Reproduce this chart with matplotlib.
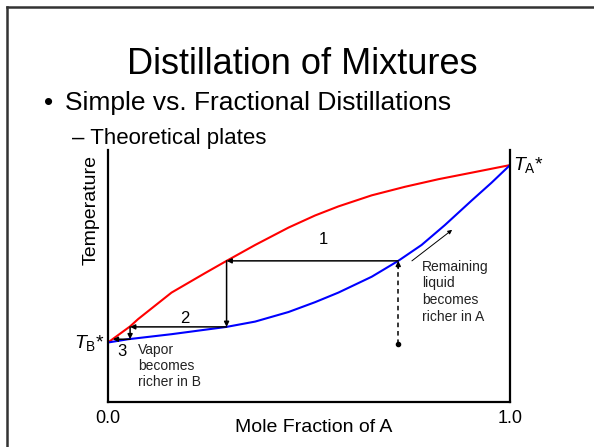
import matplotlib
matplotlib.use("Agg")
import matplotlib.pyplot as plt
from matplotlib.lines import Line2D

plt.rcParams['font.family'] = ['Liberation Sans', 'DejaVu Sans']
plt.rcParams['mathtext.fontset'] = 'custom'
plt.rcParams['mathtext.rm'] = 'Liberation Sans'
plt.rcParams['mathtext.it'] = 'Liberation Sans:italic'

# vapour (dew) curve, red
x_vap = [0, 0.055, 0.075, 0.158, 0.241, 0.295, 0.366, 0.449, 0.515,
         0.573, 0.656, 0.739, 0.822, 0.905, 1.0]
t_vap = [23.6, 30.0, 32.9, 43.4, 51.1, 56.0, 62.3, 69.2, 74.0,
         77.6, 82.0, 85.4, 88.4, 91.0, 94.0]
# liquid (bubble) curve, blue
x_liq = [0, 0.050, 0.158, 0.295, 0.366, 0.449, 0.515, 0.573, 0.656, 0.722,
         0.780, 0.838, 0.905, 0.954, 1.0]
t_liq = [23.6, 24.9, 26.9, 29.8, 31.9, 35.7, 39.6, 43.4, 49.7, 56.0,
         62.3, 70.2, 80.0, 87.0, 94.0]

# theoretical plate steps (start -> end of each arrow)
steps = [
    ((0.722, 56.0), (0.295, 56.0)),
    ((0.295, 56.0), (0.295, 29.8)),
    ((0.295, 29.8), (0.055, 29.8)),
    ((0.055, 29.8), (0.055, 24.9)),
    ((0.055, 24.9), (0.012, 24.9)),
]
step_labels = ['1', '2', '3']
step_label_pos = [(0.537, 64.3), (0.192, 33.3), (0.035, 20.2)]

# starting liquid composition
x_start, t_start = 0.722, 23.0

fig = plt.figure(figsize=(5.94, 4.47), dpi=100)
ax = fig.add_axes([0.1818, 0.1007, 0.6768, 0.5638])

ax.plot(x_vap, t_vap, color='red', lw=1.5)
ax.plot(x_liq, t_liq, color='blue', lw=1.5)

for (a, b) in steps:
    ax.annotate('', xy=b, xytext=a,
                arrowprops=dict(arrowstyle='-|>', mutation_scale=7, lw=1.1,
                                color='black', shrinkA=0, shrinkB=0))
for lab, (lx, ly) in zip(step_labels, step_label_pos):
    ax.text(lx, ly, lab, fontsize=12, ha='center', va='center')

# dashed line from starting liquid up to liquid curve
ax.plot([x_start, x_start], [t_start, 53.5], color='black', lw=1.1, ls=(0, (3, 2.5)))
ax.plot([x_start], [t_start], 'o', color='black', ms=3)
ax.annotate('', xy=(x_start, 56.0), xytext=(x_start, 53.0),
            arrowprops=dict(arrowstyle='-|>', mutation_scale=7, lw=1.1,
                            color='black', shrinkA=0, shrinkB=0))
# thin arrow along liquid curve
ax.annotate('', xy=(0.856, 68.3), xytext=(0.756, 56.0),
            arrowprops=dict(arrowstyle='-|>', mutation_scale=6, lw=0.7,
                            color='black', shrinkA=0, shrinkB=0))

ax.text(0.781, 56.5, 'Remaining\nliquid\nbecomes\nricher in A', fontsize=10,
        ha='left', va='top', linespacing=1.25, color='#222222')
ax.text(0.075, 23.5, 'Vapor\nbecomes\nricher in B', fontsize=10,
        ha='left', va='top', linespacing=1.2, color='#222222')

ax.text(1.008, 94.0, r'$T_{\mathrm{A}}$*', fontsize=14, ha='left', va='center')
ax.text(-0.008, 23.6, r'$T_{\mathrm{B}}$*', fontsize=14, ha='right', va='center')

ax.set_xlim(0, 1)
ax.set_ylim(0, 100)
ax.set_xticks([0, 1])
ax.set_xticklabels(['0.0', '1.0'], fontsize=13)
ax.set_yticks([])
ax.tick_params(axis='x', length=0, pad=6)
ax.spines['top'].set_visible(False)
for s in ['left', 'bottom', 'right']:
    ax.spines[s].set_linewidth(1.6)

fig.text(314 / 594, 1 - 428 / 447, 'Mole Fraction of A', fontsize=14,
         ha='center', va='center')
fig.text(91 / 594, 1 - 210 / 447, 'Temperature', fontsize=14,
         ha='center', va='center', rotation=90)

# slide text
fig.text(302.5 / 594, 1 - 74 / 447, 'Distillation of Mixtures', fontsize=26,
         ha='center', va='baseline')
fig.text(44 / 594, 1 - 110 / 447, '•', fontsize=19, ha='left', va='baseline')
fig.text(65 / 594, 1 - 110 / 447, 'Simple vs. Fractional Distillations',
         fontsize=19, ha='left', va='baseline')
fig.text(72 / 594, 1 - 144 / 447, '– Theoretical plates', fontsize=16,
         ha='left', va='baseline')

# slide frame (top and left edges)
fig.add_artist(Line2D([7 / 594, 1], [1 - 7 / 447, 1 - 7 / 447],
                      transform=fig.transFigure, color='#333333', lw=1.8))
fig.add_artist(Line2D([7 / 594, 7 / 594], [0, 1 - 7 / 447],
                      transform=fig.transFigure, color='#333333', lw=1.8))

fig.savefig('out.png', dpi=100)
